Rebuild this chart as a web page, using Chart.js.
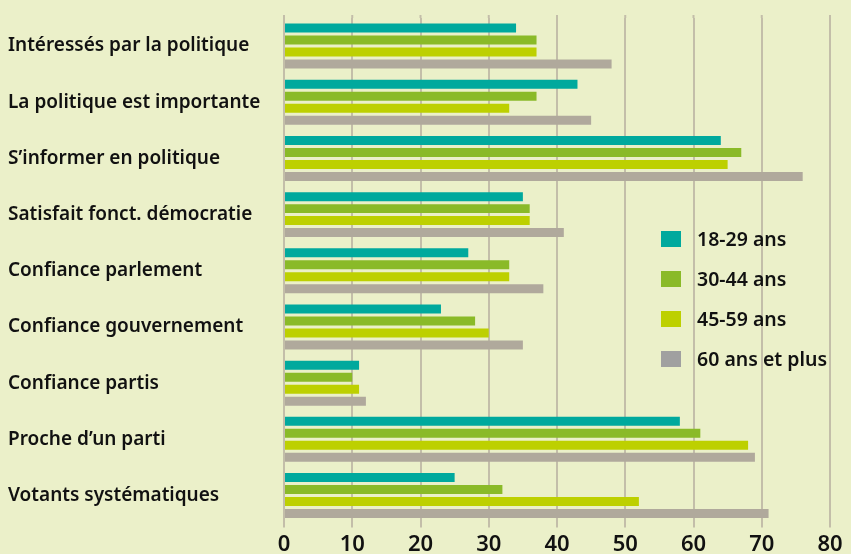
<!DOCTYPE html>
<html>
<head>
<meta charset="utf-8">
<script src="https://cdn.jsdelivr.net/npm/chart.js@4.4.0/dist/chart.umd.min.js"></script>
<style>
  body { margin: 0; background: #ebf0c9; }
  #chart { display: block; }
</style>
</head>
<body>
<canvas id="chart" width="851" height="554"></canvas>
<script>
// Data
const categories = [
  'Intéressés par la politique',
  'La politique est importante',
  'S\u2019informer en politique',
  'Satisfait fonct. démocratie',
  'Confiance parlement',
  'Confiance gouvernement',
  'Confiance partis',
  'Proche d\u2019un parti',
  'Votants systématiques'
];
const seriesNames = ['18-29 ans', '30-44 ans', '45-59 ans', '60 ans et plus'];
const age18_29 = [34, 43, 64, 35, 27, 23, 11, 58, 25];
const age30_44 = [37, 37, 67, 36, 33, 28, 10, 61, 32];
const age45_59 = [37, 33, 65, 36, 33, 30, 11, 68, 52];
const age60plus = [48, 45, 76, 41, 38, 35, 12, 69, 71];
const xTicks = [0, 10, 20, 30, 40, 50, 60, 70, 80];

const barColors = ['#00a99d', '#8aba28', '#bdd000', '#b0a99c'];
const legendColors = ['#00a99d', '#8aba28', '#bdd000', '#a0a0a0'];
const gridColor = '#c3bea9';
const textColor = '#111111';
const fontFamily = '"Noto Sans", sans-serif';

const bgPlugin = {
  id: 'bg',
  beforeDraw(chart) {
    const ctx = chart.ctx;
    ctx.save();
    ctx.fillStyle = '#ebf0c9';
    ctx.fillRect(0, 0, chart.width, chart.height);
    ctx.restore();
  },
  // grid lines poke a little above the plot area
  beforeDatasetsDraw(chart) {
    const ctx = chart.ctx;
    const x = chart.scales.x;
    const top = chart.chartArea.top;
    ctx.save();
    ctx.strokeStyle = gridColor;
    ctx.lineWidth = 2;
    xTicks.forEach(v => {
      const px = x.getPixelForValue(v);
      ctx.beginPath();
      ctx.moveTo(px, top - 3);
      ctx.lineTo(px, top);
      ctx.stroke();
    });
    ctx.restore();
  }
};

// legend drawn inside the plot, right side
const legendPlugin = {
  id: 'boxLegend',
  afterDraw(chart) {
    const ctx = chart.ctx;
    ctx.save();
    ctx.font = '600 19.5px ' + fontFamily;
    ctx.textBaseline = 'middle';
    seriesNames.forEach((name, i) => {
      const y = 239 + i * 40;
      ctx.fillStyle = legendColors[i];
      ctx.fillRect(661, y - 8, 20, 16);
      ctx.fillStyle = textColor;
      ctx.fillText(name, 697, y + 1);
    });
    ctx.restore();
  }
};

const seriesData = [age18_29, age30_44, age45_59, age60plus];

new Chart(document.getElementById('chart'), {
  type: 'bar',
  data: {
    labels: categories,
    datasets: seriesNames.map((name, i) => ({
      label: name,
      data: seriesData[i],
      backgroundColor: barColors[i],
      categoryPercentage: 0.854,
      barPercentage: 0.75
    }))
  },
  options: {
    indexAxis: 'y',
    responsive: false,
    animation: false,
    layout: { padding: { left: 8, right: 21, top: 18, bottom: -8 } },
    plugins: {
      legend: { display: false },
      tooltip: { enabled: false }
    },
    scales: {
      x: {
        min: 0,
        max: 80,
        afterBuildTicks(scale) {
          scale.ticks = xTicks.map(v => ({ value: v }));
        },
        grid: {
          color: gridColor,
          lineWidth: 2,
          drawTicks: true,
          tickLength: 4
        },
        border: { display: false },
        ticks: {
          color: textColor,
          padding: 4,
          font: { family: fontFamily, size: 22, weight: '600' }
        }
      },
      y: {
        grid: { display: false },
        border: { display: false },
        afterFit(scale) {
          scale.width = 276;
          scale.paddingTop = 0;
          scale.paddingBottom = 0;
        },
        ticks: {
          crossAlign: 'far',
          color: textColor,
          padding: 10,
          font: { family: fontFamily, size: 19, weight: '600' }
        }
      }
    }
  },
  plugins: [bgPlugin, legendPlugin]
});
</script>
</body>
</html>
